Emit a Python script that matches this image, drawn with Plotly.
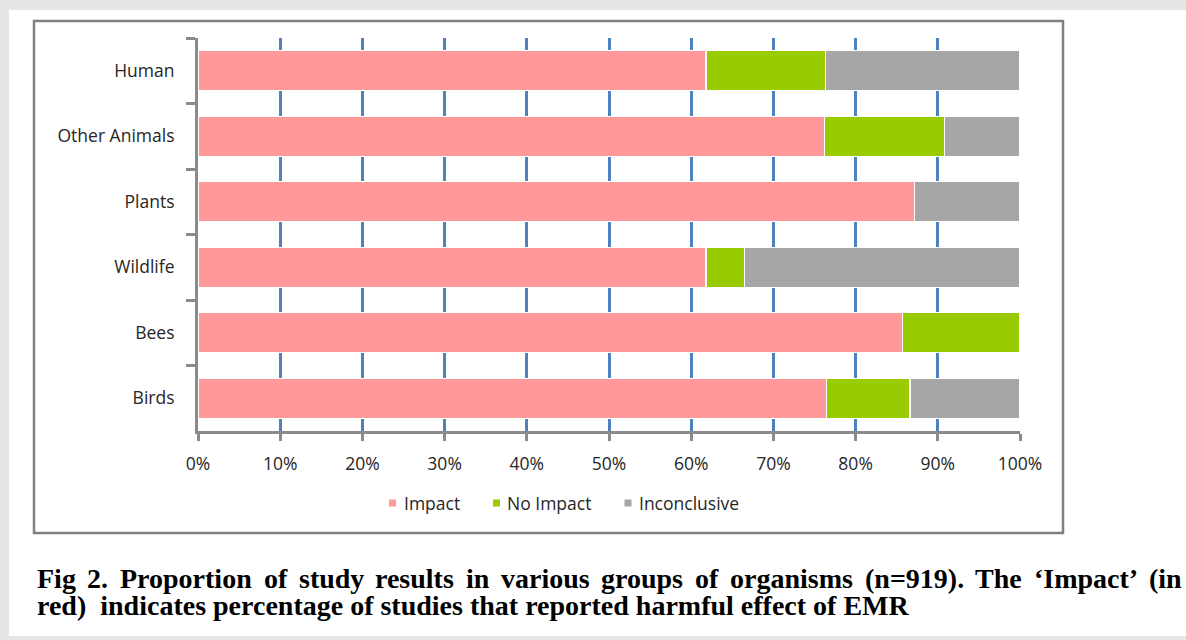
import plotly.graph_objects as go

# ---- data -------------------------------------------------------------
categories = ["Human", "Other Animals", "Plants", "Wildlife", "Bees", "Birds"]
impact = [61.8, 76.2, 87.2, 61.8, 85.7, 76.5]
no_impact = [14.5, 14.6, 0.0, 4.7, 14.3, 10.1]
inconclusive = [23.7, 9.2, 12.8, 33.5, 0.0, 13.4]

series_names = ["Impact", "No Impact", "Inconclusive"]
series_colors = ["#ff9899", "#99cc00", "#a6a6a6"]
x_tick_values = [0, 10, 20, 30, 40, 50, 60, 70, 80, 90, 100]
x_tick_labels = ["0%", "10%", "20%", "30%", "40%", "50%", "60%", "70%", "80%", "90%", "100%"]

caption_line1 = ("Fig 2. Proportion of study results in various groups of "
                 "organisms (n=919). The \u2018Impact\u2019 (in")
caption_line2 = ("red)\u00a0 indicates percentage of studies that reported "
                 "harmful effect of EMR")

# ---- geometry (pixels in a 1186 x 640 canvas) --------------------------
W, H = 1186, 640
PL, PR, PT, PB = 198, 1020, 38, 431


def fx(px):
    return (px - PL) / (PR - PL)


def fy(py):
    return (PB - py) / (PB - PT)


fig = go.Figure()
for name, vals, col in zip(series_names, [impact, no_impact, inconclusive], series_colors):
    fig.add_trace(go.Bar(
        y=categories, x=vals, name=name, orientation="h",
        marker=dict(color=col, line=dict(color="white", width=1.3)),
        showlegend=False,
    ))

label_font = dict(family="'Open Sans', Lato, sans-serif", size=17.5, color="#262626")

fig.update_layout(
    width=W, height=H,
    margin=dict(l=PL, r=W - PR, t=PT, b=H - PB, pad=0),
    barmode="stack", bargap=0.39,
    paper_bgcolor="#e6e6e6", plot_bgcolor="white",
    font=label_font,
    xaxis=dict(
        range=[0, 100], tickvals=x_tick_values, ticktext=x_tick_labels,
        showgrid=True, gridcolor="#4f81bd", gridwidth=2.5,
        zeroline=False, showline=True, linecolor="#8a8a8a", linewidth=3,
        ticks="outside", ticklen=7, tickwidth=2.5, tickcolor="#8a8a8a",
        ticklabelstandoff=8, tickfont=label_font, fixedrange=True,
    ),
    yaxis=dict(
        categoryorder="array", categoryarray=categories, autorange="reversed",
        showgrid=False, zeroline=False,
        showline=True, linecolor="#8a8a8a", linewidth=3,
        ticks="outside", ticklen=9, tickwidth=2.5, tickcolor="#8a8a8a",
        tickson="boundaries", ticklabelstandoff=17, tickfont=label_font,
        fixedrange=True,
    ),
)

# ---- page, chart frame -------------------------------------------------
shapes = [
    dict(type="rect", xref="paper", yref="paper", layer="below",
         x0=fx(9), x1=fx(W + 5), y0=fy(636), y1=fy(10),
         fillcolor="white", line=dict(width=0)),
    dict(type="rect", xref="paper", yref="paper", layer="below",
         x0=fx(34), x1=fx(1063), y0=fy(533), y1=fy(21),
         fillcolor="white", line=dict(color="#7f7f7f", width=2.5)),
]

# ---- legend ------------------------------------------------------------
annotations = []
legend_items = [(392.5, 402), (496.5, 505), (628, 637)]
for (mx, tx), name, col in zip(legend_items, series_names, series_colors):
    shapes.append(dict(type="rect", xref="paper", yref="paper",
                       x0=fx(mx - 3.5), x1=fx(mx + 3.5), y0=fy(506.5), y1=fy(499.5),
                       fillcolor=col, line=dict(width=0)))
    annotations.append(dict(text=name, xref="paper", yref="paper", x=fx(tx), y=fy(503),
                            xanchor="left", yanchor="middle", showarrow=False,
                            font=label_font))

# ---- caption (first line justified word by word) -----------------------
TNR_BOLD = {
    " ": 250, "(": 333, ")": 333, ".": 250, "=": 570, "1": 500, "2": 500, "9": 500,
    "\u2018": 333, "\u2019": 333, "E": 667, "F": 611, "I": 389, "M": 944, "P": 611,
    "R": 722, "T": 667, "a": 500, "c": 444, "d": 556, "e": 444, "f": 333, "g": 500,
    "h": 556, "i": 278, "l": 278, "m": 833, "n": 556, "o": 500, "p": 556, "r": 444,
    "s": 389, "t": 333, "u": 556, "v": 500, "y": 500,
}
cap_size = 28
cap_font = dict(family="'Liberation Serif', 'Times New Roman', serif", size=cap_size,
                color="black")
words = caption_line1.split(" ")
widths = [sum(TNR_BOLD.get(c, 500) for c in w) / 1000 * cap_size for w in words]
left, right = 35, 1180
gap = (right - left - sum(widths)) / (len(words) - 1)
x = left
for w, wd in zip(words, widths):
    annotations.append(dict(text="<b>%s</b>" % w, xref="paper", yref="paper",
                            x=fx(x), y=fy(578), xanchor="left", yanchor="middle",
                            showarrow=False, font=cap_font))
    x += wd + gap
annotations.append(dict(text="<b>%s</b>" % caption_line2, xref="paper", yref="paper",
                        x=fx(left), y=fy(605), xanchor="left", yanchor="middle",
                        showarrow=False, font=cap_font))

fig.update_layout(shapes=shapes, annotations=annotations)
fig.write_html("out.html")
